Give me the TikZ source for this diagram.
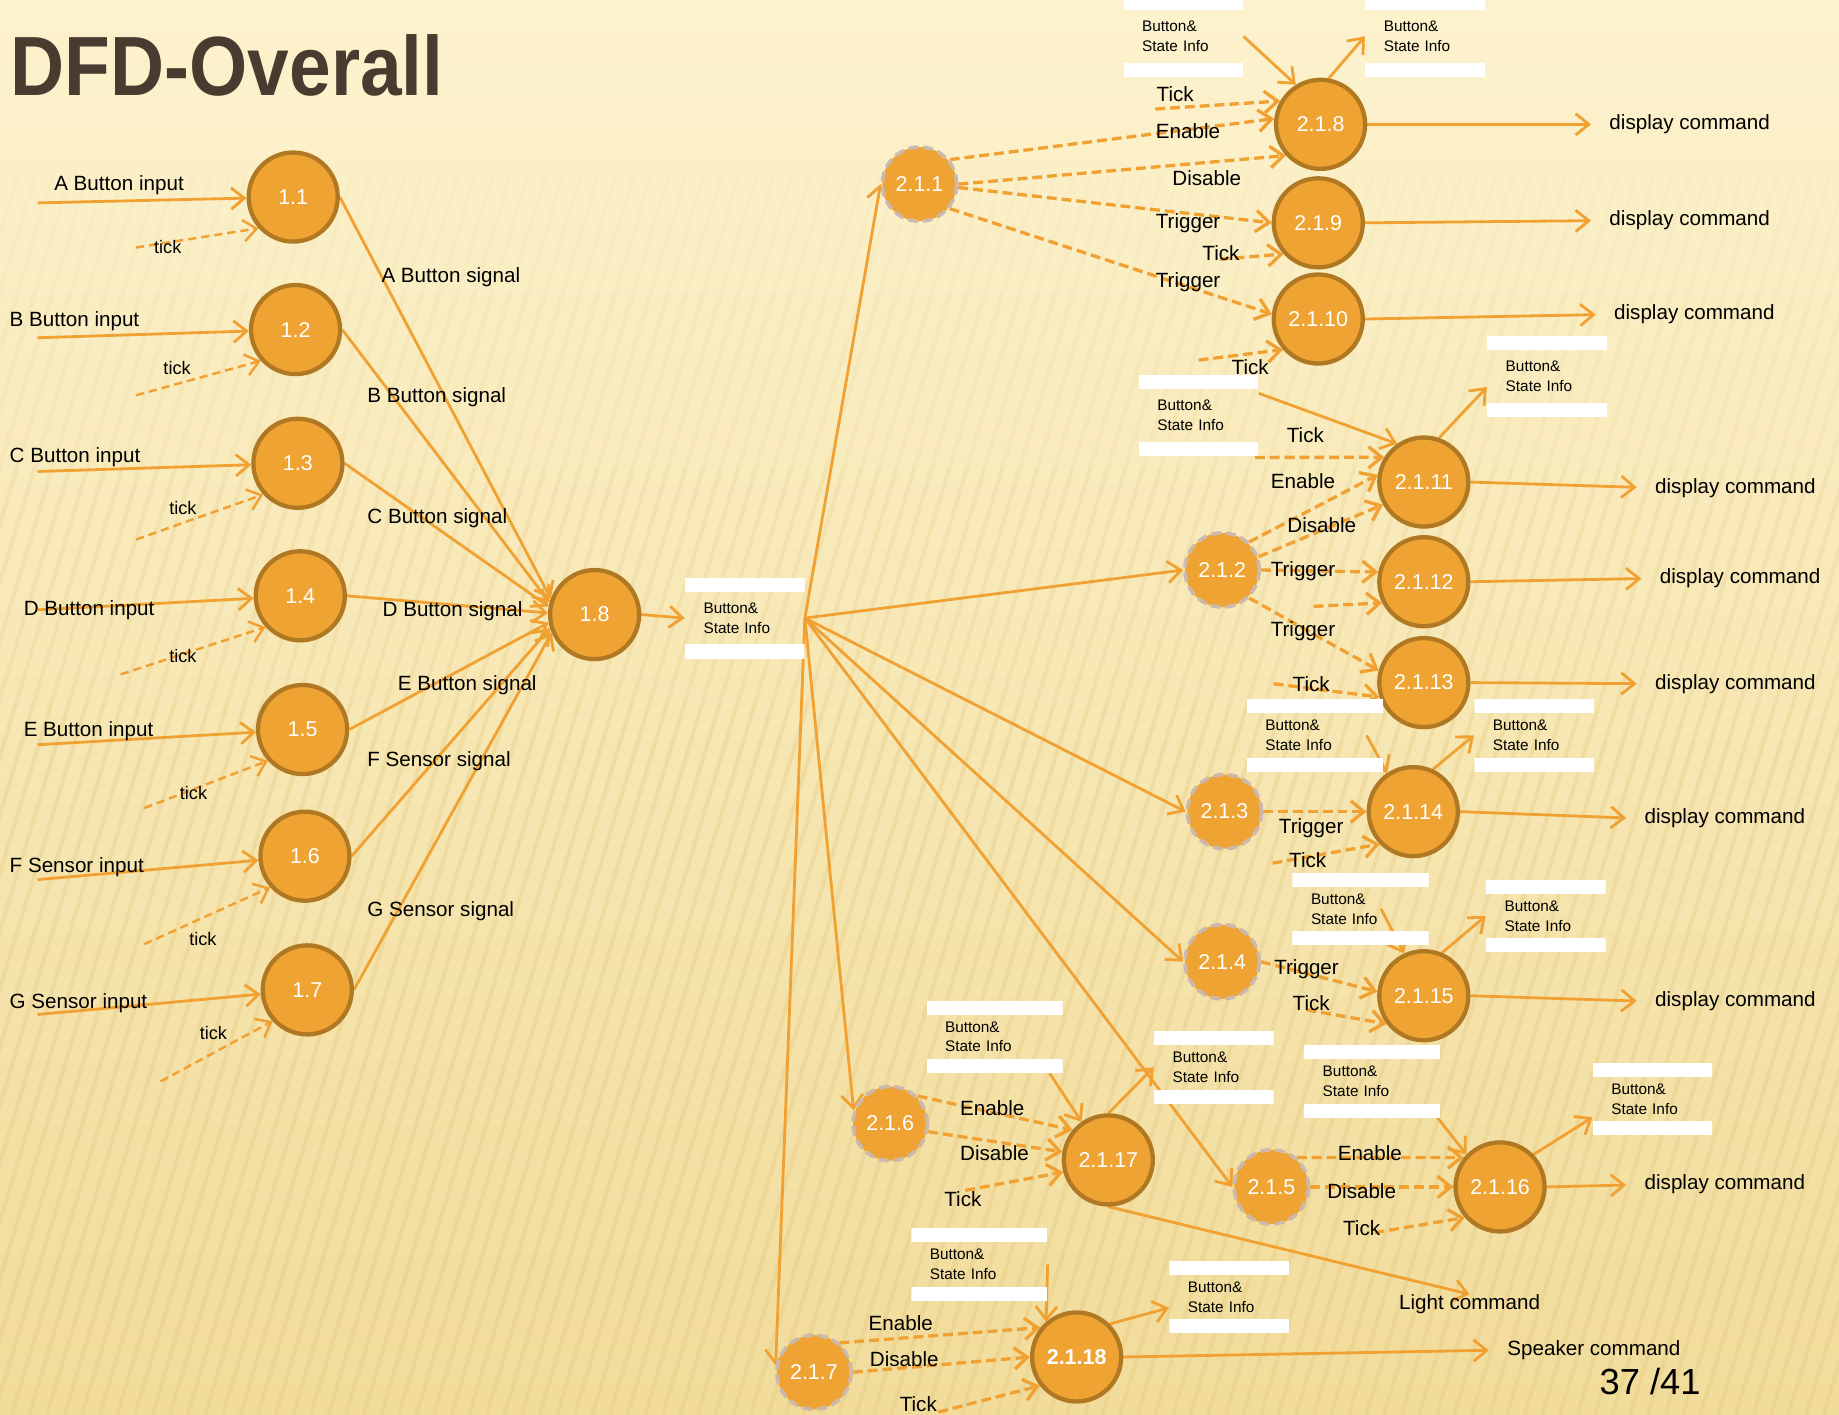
\documentclass[tikz,border=0pt]{standalone}
\usepackage{fontspec}
\setmainfont{Liberation Sans}
\newfontfamily\titlefont{Liberation Sans}[FakeStretch=0.89]
\usepackage{tikz}
\usetikzlibrary{arrows.meta}
\definecolor{arrowc}{RGB}{240,161,50}
\definecolor{procfill}{RGB}{238,163,50}
\definecolor{procedge}{RGB}{176,120,34}
\definecolor{subedge}{RGB}{204,184,172}
\definecolor{titlec}{RGB}{74,59,48}
\definecolor{bgtop}{RGB}{252,242,205}
\definecolor{bgbot}{RGB}{241,220,155}
\definecolor{stripec}{RGB}{226,196,120}
\pgfdeclarelayer{bg}
\pgfdeclarelayer{wires}
\pgfsetlayers{bg,wires,main}

\begin{document}
\begin{tikzpicture}[
        x = 0.025cm, y = -0.025cm,
        proc/.style = {circle, fill=procfill, draw=procedge, line width=2.6pt, minimum size=54pt, inner sep=0pt, text=white, font=\fontsize{13}{13}\selectfont},
        sub/.style = {proc, draw=subedge, line width=2.2pt, dash pattern=on 6pt off 3pt, minimum size=45pt},
        store/.style = {rectangle, inner sep=0pt, minimum width=72.5pt, minimum height=44pt, text width=50pt, align=left, font=\fontsize{9.3}{12}\selectfont,
            path picture={\fill[white] (path picture bounding box.north west) rectangle ([yshift=-8.5pt]path picture bounding box.north east);
                \fill[white] (path picture bounding box.south west) rectangle ([yshift=8.5pt]path picture bounding box.south east);}},
        wide/.style = {minimum width=82.5pt, text width=60pt},
        lbl/.style = {font=\fontsize{12.5}{14}\selectfont, inner sep=0pt},
        tk/.style = {font=\fontsize{11}{12}\selectfont, inner sep=0pt},
        cmd/.style = {lbl, anchor=west},
        flow/.style = {draw=arrowc, line width=1.7pt, -{Straight Barb[length=8pt, width=13pt]}},
        dflow/.style = {flow, line width=2pt, dash pattern=on 6pt off 3pt},
        tflow/.style = {flow, line width=1.5pt, dash pattern=on 5pt off 3pt},
        tocmd/.style = {flow, shorten >=11pt},
        stripe/.style = {stripec, line width=2.5pt}
    ]
    \useasboundingbox (0,0) rectangle (1568,1206);
    \begin{pgfonlayer}{bg}
        \shade[top color=bgtop, bottom color=bgbot] (0,0) rectangle (1568,1206);
        \foreach \s in {-320,-305,...,1568} {
            \draw[stripe, opacity=0.28] (\s,1206) -- ({\s+183.6},600);
            \draw[stripe, opacity=0.2] ({\s+183.6},600) -- ({\s+244.2},400);
            \draw[stripe, opacity=0.12] ({\s+244.2},400) -- ({\s+289.7},250);
            \draw[stripe, opacity=0.05] ({\s+289.7},250) -- ({\s+320},150);
        }
    \end{pgfonlayer}

    \node[anchor=base west, inner sep=0pt, text=titlec, font=\titlefont\bfseries\fontsize{51}{51}\selectfont] (title) at (9,81) {DFD-Overall};

    \node[proc] (c11) at (250,168) {1.1};
    \node[proc] (c12) at (252,281) {1.2};
    \node[proc] (c13) at (254,395) {1.3};
    \node[proc] (c14) at (256,508) {1.4};
    \node[proc] (c15) at (258,622) {1.5};
    \node[proc] (c16) at (260,730) {1.6};
    \node[proc] (c17) at (262,844) {1.7};
    \node[proc] (c18) at (507,524) {1.8};

    \node[sub] (c211) at (784,157) {2.1.1};
    \node[sub] (c212) at (1042,486) {2.1.2};
    \node[sub] (c213) at (1044,692) {2.1.3};
    \node[sub] (c214) at (1042,820) {2.1.4};
    \node[sub] (c215) at (1084,1012) {2.1.5};
    \node[sub] (c216) at (759,958) {2.1.6};
    \node[sub] (c217) at (694,1170) {2.1.7};
    \node[proc] (c218) at (1126,106) {2.1.8};
    \node[proc] (c219) at (1124,190) {2.1.9};
    \node[proc] (c2110) at (1124,272) {2.1.10};
    \node[proc] (c2111) at (1214,411) {2.1.11};
    \node[proc] (c2112) at (1214,496) {2.1.12};
    \node[proc] (c2113) at (1214,582) {2.1.13};
    \node[proc] (c2114) at (1205,692) {2.1.14};
    \node[proc] (c2115) at (1214,849) {2.1.15};
    \node[proc] (c2116) at (1279,1012) {2.1.16};
    \node[proc] (c2117) at (945,989) {2.1.17};
    \node[proc, font=\fontsize{13}{13}\selectfont\bfseries] (c2118) at (918,1157) {2.1.18};

    \node[store, minimum height=49pt] (st0) at (635,527) {Button\&\\State Info};
    \node[store, minimum height=49pt] (st1) at (1009,31) {Button\&\\State Info};
    \node[store, minimum height=49pt] (st2) at (1215,31) {Button\&\\State Info};
    \node[store, minimum height=49pt] (st3) at (1022,354) {Button\&\\State Info};
    \node[store, minimum height=49pt] (st4) at (1319,321) {Button\&\\State Info};
    \node[store, wide] (st5) at (1121,627) {Button\&\\State Info};
    \node[store] (st6) at (1308,627) {Button\&\\State Info};
    \node[store, wide] (st7) at (1160,775) {Button\&\\State Info};
    \node[store] (st8) at (1318,781) {Button\&\\State Info};
    \node[store, wide] (st9) at (848,884) {Button\&\\State Info};
    \node[store] (st10) at (1035,910) {Button\&\\State Info};
    \node[store, wide] (st11) at (1170,922) {Button\&\\State Info};
    \node[store] (st12) at (1409,937) {Button\&\\State Info};
    \node[store, wide] (st13) at (835,1078) {Button\&\\State Info};
    \node[store] (st14) at (1048,1106) {Button\&\\State Info};

    \node[lbl, anchor=west] (la) at (46,158) {A Button input};
    \node[lbl, anchor=west] (lb) at (8,274) {B Button input};
    \node[lbl, anchor=west] (lc) at (8,390) {C Button input};
    \node[lbl, anchor=west] (ld) at (20,520) {D Button input};
    \node[lbl, anchor=west] (le) at (20,623) {E Button input};
    \node[lbl, anchor=west] (lf) at (8,739) {F Sensor input};
    \node[lbl, anchor=west] (lg) at (8,855) {G Sensor input};
    \node[tk] (ka) at (143,211) {tick};
    \node[tk] (kb) at (151,314) {tick};
    \node[tk] (kc) at (156,433) {tick};
    \node[tk] (kd) at (156,559) {tick};
    \node[tk] (ke) at (165,676) {tick};
    \node[tk] (kf) at (173,801) {tick};
    \node[tk] (kg) at (182,881) {tick};
    \node[lbl, anchor=west] (sa) at (325,236) {A Button signal};
    \node[lbl, anchor=west] (sb) at (313,339) {B Button signal};
    \node[lbl, anchor=west] (sc) at (313,442) {C Button signal};
    \node[lbl, anchor=west] (sd) at (326,521) {D Button signal};
    \node[lbl, anchor=west] (se) at (339,584) {E Button signal};
    \node[lbl, anchor=west] (sf) at (313,649) {F Sensor signal};
    \node[lbl, anchor=west] (sg) at (313,777) {G Sensor signal};

    \node[lbl] (lt218) at (1002,80) {Tick};
    \node[lbl] (le218) at (1013,112) {Enable};
    \node[lbl] (ld218) at (1029,152) {Disable};
    \node[lbl] (lr219) at (1013,190) {Trigger};
    \node[lbl] (lt219) at (1041,216) {Tick};
    \node[lbl] (lr2110) at (1013,241) {Trigger};
    \node[lbl] (lt2110) at (1066,313) {Tick};
    \node[lbl] (lt2111) at (1113,371) {Tick};
    \node[lbl] (le2111) at (1111,410) {Enable};
    \node[lbl] (ld2111) at (1127,448) {Disable};
    \node[lbl] (lr2112) at (1111,487) {Trigger};
    \node[lbl] (lr2113) at (1111,538) {Trigger};
    \node[lbl] (lt2113) at (1118,583) {Tick};
    \node[lbl] (lr2114) at (1118,706) {Trigger};
    \node[lbl] (lt2114) at (1115,733) {Tick};
    \node[lbl] (lr2115) at (1114,826) {Trigger};
    \node[lbl] (lt2115) at (1118,855) {Tick};
    \node[lbl] (le2116) at (1168,983) {Enable};
    \node[lbl] (ld2116) at (1161,1016) {Disable};
    \node[lbl] (lt2116) at (1161,1047) {Tick};
    \node[lbl] (le2117) at (846,945) {Enable};
    \node[lbl] (ld2117) at (848,983) {Disable};
    \node[lbl] (lt2117) at (821,1022) {Tick};
    \node[lbl] (le2118) at (768,1128) {Enable};
    \node[lbl] (ld2118) at (771,1159) {Disable};
    \node[lbl] (lt2118) at (783,1197) {Tick};

    \node[cmd] (dc1) at (1372,106) {display command};
    \node[cmd] (dc2) at (1372,188) {display command};
    \node[cmd] (dc3) at (1376,268) {display command};
    \node[cmd] (dc4) at (1411,416) {display command};
    \node[cmd] (dc5) at (1415,493) {display command};
    \node[cmd] (dc6) at (1411,583) {display command};
    \node[cmd] (dc7) at (1402,698) {display command};
    \node[cmd] (dc8) at (1411,854) {display command};
    \node[cmd] (dc9) at (1402,1010) {display command};
    \node[lbl] (light) at (1253,1112) {Light command};
    \node[cmd] (speak) at (1285,1151) {Speaker command};
    \node[font=\fontsize{22}{22}\selectfont, inner sep=0pt] (page) at (1407,1178) {37 /41};

    \coordinate (ina) at (32,173);
    \coordinate (inb) at (32,288);
    \coordinate (inc) at (32,402);
    \coordinate (ind) at (32,520);
    \coordinate (ine) at (32,635);
    \coordinate (inf) at (32,750);
    \coordinate (ing) at (32,865);
    \coordinate (ta) at (116,211);
    \coordinate (tb) at (116,337);
    \coordinate (tc) at (116,460);
    \coordinate (td) at (103,575);
    \coordinate (te) at (123,689);
    \coordinate (tf) at (123,805);
    \coordinate (tg) at (137,922);
    \coordinate (t218) at (985,93);
    \coordinate (t219) at (1040,221);
    \coordinate (t2110) at (1022,307);
    \coordinate (t2111) at (1070,390);
    \coordinate (t2112) at (1120,517);
    \coordinate (t2113) at (1086,583);
    \coordinate (t2114) at (1085,736);
    \coordinate (t2115) at (1114,861);
    \coordinate (t2116) at (1172,1051);
    \coordinate (t2117) at (823,1015);
    \coordinate (t2118) at (800,1204);

    \begin{pgfonlayer}{wires}
        \draw[flow] (ina) -- (c11);
        \draw[flow] (inb) -- (c12);
        \draw[flow] (inc) -- (c13);
        \draw[flow] (ind) -- (c14);
        \draw[flow] (ine) -- (c15);
        \draw[flow] (inf) -- (c16);
        \draw[flow] (ing) -- (c17);
        \draw[tflow] (ta) -- (c11.222);
        \draw[tflow] (tb) -- (c12.222);
        \draw[tflow] (tc) -- (c13.222);
        \draw[tflow] (td) -- (c14.222);
        \draw[tflow] (te) -- (c15.222);
        \draw[tflow] (tf) -- (c16.222);
        \draw[tflow] (tg) -- (c17.222);
        \draw[flow] (c11.east) -- (c18.160);
        \draw[flow] (c12.east) -- (c18.165);
        \draw[flow] (c13.east) -- (c18.170);
        \draw[flow] (c14.east) -- (c18.178);
        \draw[flow] (c15.east) -- (c18.190);
        \draw[flow] (c16.east) -- (c18.197);
        \draw[flow] (c17.east) -- (c18.203);
        \draw[flow] (c18.east) -- (st0.west);

        \draw[flow] (st0.east) -- (c211.west);
        \draw[flow] (st0.east) -- (c212.west);
        \draw[flow] (st0.east) -- (c213.west);
        \draw[flow] (st0.east) -- (c214.west);
        \draw[flow] (st0.east) -- (c215.west);
        \draw[flow] (st0.east) -- (c216.160);
        \draw[flow] (st0.east) -- (c217.170);

        \draw[dflow] (c211.39) -- (c218.173);
        \draw[dflow] (c211.east) -- (c218.222);
        \draw[dflow] (c211.-5) -- (c219.west);
        \draw[dflow] (c211.-39) -- (c2110.174);
        \draw[dflow] (t218) -- (c218.150);
        \draw[flow] (st1.east) -- (c218.122);
        \draw[flow] (c218.80) -- (st2.west);
        \draw[tocmd] (c218.east) -- (dc1.west);
        \draw[dflow] (t219) -- (c219.222);
        \draw[tocmd] (c219.east) -- (dc2.west);
        \draw[dflow] (t2110) -- (c2110.221);
        \draw[tocmd] (c2110.east) -- (dc3.west);

        \draw[flow] (st3.20) -- (c2111.125);
        \draw[dflow] (t2111) -- (c2111.148);
        \draw[dflow] (c212.46) -- (c2111.171);
        \draw[dflow] (c212.20) -- (c2111.209);
        \draw[flow] (c2111.71) -- (st4.190);
        \draw[tocmd] (c2111.east) -- (dc4.west);
        \draw[dflow] (c212.east) -- (c2112.168);
        \draw[dflow] (t2112) -- (c2112.207);
        \draw[tocmd] (c2112.east) -- (dc5.west);
        \draw[dflow] (c212.-46) -- (c2113.165);
        \draw[dflow] (t2113) -- (c2113.198);
        \draw[tocmd] (c2113.east) -- (dc6.west);

        \draw[flow] ([xshift=-10pt]st5.east) -- (c2114.124);
        \draw[dflow] (c213.east) -- (c2114.west);
        \draw[dflow] (t2114) -- (c2114.224);
        \draw[flow] (c2114.65) -- (st6.west);
        \draw[tocmd] (c2114.east) -- (dc7.west);

        \draw[flow] ([xshift=-29pt]st7.east) -- (c2115.115);
        \draw[dflow] (c214.east) -- (c2115.175);
        \draw[dflow] (t2115) -- (c2115.217);
        \draw[flow] (c2115.67) -- (st8.west);
        \draw[tocmd] (c2115.east) -- (dc8.west);

        \draw[flow] ([xshift=-8pt, yshift=8pt]st11.south east) -- (c2116.136);
        \draw[dflow] (c215.49) -- (c2116.141);
        \draw[dflow] (c215.east) -- (c2116.west);
        \draw[dflow] (t2116) -- (c2116.221);
        \draw[flow] (c2116.44) -- (st12.197);
        \draw[tocmd] (c2116.east) -- (dc9.west);

        \draw[flow] ([xshift=-8pt]st9.south east) -- (c2117.125);
        \draw[dflow] (c216.45) -- (c2117.140);
        \draw[dflow] (c216.-12) -- (c2117.170);
        \draw[dflow] (t2117) -- (c2117.195);
        \draw[flow] (c2117.north) -- (st10.west);
        \draw[flow] (c2117.south) -- (light.north);

        \draw[flow] (st13.east) -- (c2118.131);
        \draw[dflow] (c217.49) -- (c2118.141);
        \draw[dflow] (c217.east) -- (c2118.west);
        \draw[dflow] (t2118) -- (c2118.218);
        \draw[flow] (c2118.45) -- (st14.190);
        \draw[tocmd] (c2118.east) -- (speak.west);
    \end{pgfonlayer}
\end{tikzpicture}
\end{document}
